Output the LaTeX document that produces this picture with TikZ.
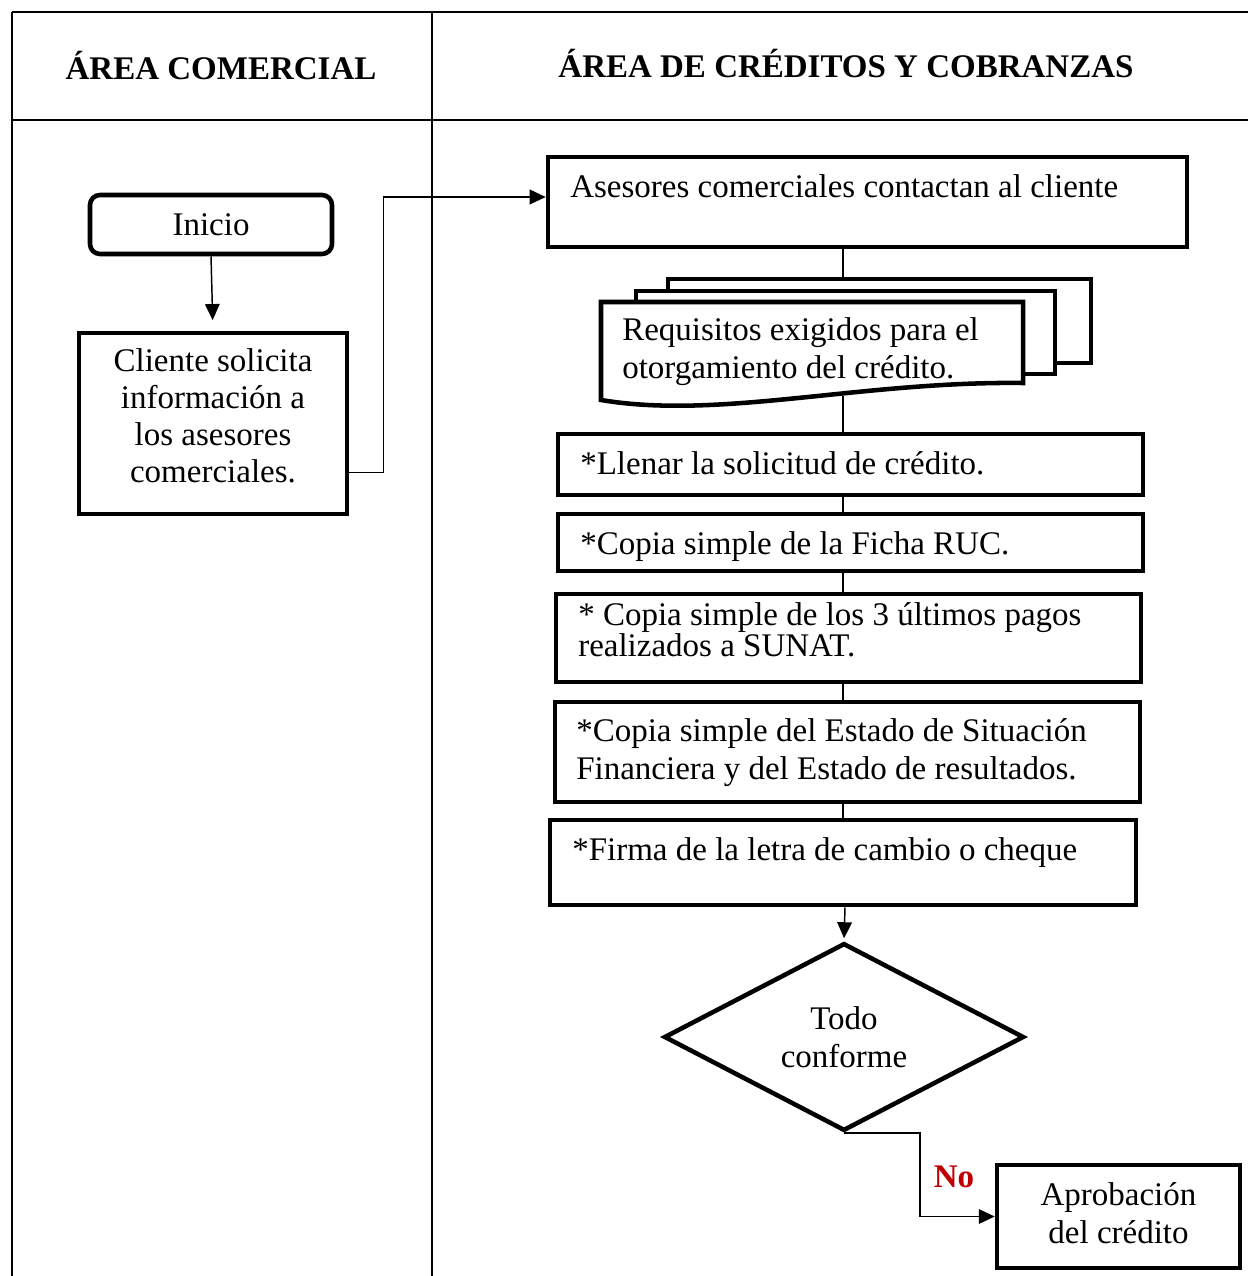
\documentclass[tikz,border=0pt]{standalone}
\usepackage{fontspec}
\setmainfont{Liberation Serif}
\usetikzlibrary{arrows.meta,shapes.geometric}
\definecolor{nored}{RGB}{192,0,0}

\begin{document}
\begin{tikzpicture}[x=0.75pt,y=-0.75pt,
  box/.style={draw,line width=3.4pt,fill=white,inner sep=0pt},
  txt/.style={inner sep=0pt,font=\fontsize{24.75}{28.5}\selectfont},
  link/.style={line width=1.1pt},
  arr/.style={link,-{Triangle[length=12pt,width=11pt]}},
  grid/.style={line width=1.6pt}]
\useasboundingbox (0,0) rectangle (1248,1276);

% swimlane table
\draw[grid] (12,12) -- (1248,12);
\draw[grid,line width=2.2pt] (12,120) -- (1248,120);
\draw[grid] (12,12) -- (12,1276);
\draw[grid] (432,12) -- (432,1276);
\node[txt,font=\fontsize{24.75}{28.5}\selectfont\bfseries] (laneA) at (221,66) {ÁREA COMERCIAL};
\node[txt,font=\fontsize{24.75}{28.5}\selectfont\bfseries] (laneB) at (846,64) {ÁREA DE CRÉDITOS Y COBRANZAS};

% left lane
\node[box,txt,rounded corners=7.5pt,minimum width=181.5pt,minimum height=44.25pt] (inicio) at (211,224.5) {Inicio};
\node[box,minimum width=201pt,minimum height=135.75pt] (cliente) at (213,423.5) {};
\node[txt,align=center,font=\fontsize{24.75}{27.75}\selectfont] (clienteT) at (213,415.5)
  {Cliente solicita\\información a\\los asesores\\comerciales.};

% right lane boxes
\node[box,minimum width=479.25pt,minimum height=67.5pt] (asesores) at (867.5,202) {};
\node[txt,anchor=mid west] (asesoresT) at (570,194) {Asesores comerciales contactan al cliente};

\node[box,minimum width=317.25pt,minimum height=63pt] (docback) at (879.5,321) {};
\node[box,minimum width=314.25pt,minimum height=62.25pt] (docmid) at (845.5,332.5) {};
\draw[line width=3.4pt,fill=white] (601,302) -- (1023,302) -- (1023,383)
  .. controls (860,381) and (720,420) .. (601,400) -- cycle;
\coordinate (docbot) at (843,396);
\node[txt,anchor=west,align=left] (reqT) at (622,352) {Requisitos exigidos para el\\otorgamiento del crédito.};

\node[box,minimum width=438.75pt,minimum height=45.75pt] (llenar) at (850.5,464.5) {};
\node[txt,anchor=mid west] (llenarT) at (580,471) {*Llenar la solicitud de crédito.};

\node[box,minimum width=438.75pt,minimum height=42.75pt] (ruc) at (850.5,542.5) {};
\node[txt,anchor=mid west] (rucT) at (580,551) {*Copia simple de la Ficha RUC.};

\node[box,minimum width=438.75pt,minimum height=66pt] (sunat) at (848.5,638) {};
\node[txt,anchor=west,align=left,font=\fontsize{24.75}{22.5}\selectfont] (sunatT) at (578,630)
  {* Copia simple de los 3 últimos pagos\\realizados a SUNAT.};

\node[box,minimum width=438.75pt,minimum height=75pt] (estado) at (847.5,752) {};
\node[txt,anchor=west,align=left] (estadoT) at (576,753)
  {*Copia simple del Estado de Situación\\Financiera y del Estado de resultados.};

\node[box,minimum width=439.5pt,minimum height=63.75pt] (firma) at (843,862.5) {};
\node[txt,anchor=mid west] (firmaT) at (572,857) {*Firma de la letra de cambio o cheque};

\node[box,txt,diamond,align=center,minimum width=270pt,minimum height=139.5pt] (cond) at (844,1037)
  {Todo\\conforme};

\node[box,minimum width=182.25pt,minimum height=77.25pt] (aprob) at (1118.5,1216.5) {};
\node[txt,align=center] (aprobT) at (1118.5,1213) {Aprobación\\del crédito};

% connectors
\draw[arr,shorten >=8pt] (inicio.south) -- (cliente.north);
\draw[arr] ([yshift=33pt]cliente.south east) -- ++(34,0) |- ([yshift=3.75pt]asesores.west);

\draw[link] (asesores.south -| firma) -- (docback.north -| firma);
\draw[link] (docbot) -- (llenar.north -| firma);
\draw[link] (llenar.south -| firma) -- (ruc.north -| firma);
\draw[link] (ruc.south -| firma) -- (sunat.north -| firma);
\draw[link] (sunat.south -| firma) -- (estado.north -| firma);
\draw[link] (estado.south -| firma) -- (firma.north);
\draw[arr,shorten >=2pt] ([xshift=1.5pt]firma.south) -- (cond.north);
\draw[arr] (cond.south) -- ++(76,0) |- (aprob.west);
\node[txt,font=\fontsize{24.75}{28.5}\selectfont\bfseries,text=nored] (no) at (954,1177) {No};
\end{tikzpicture}
\end{document}
